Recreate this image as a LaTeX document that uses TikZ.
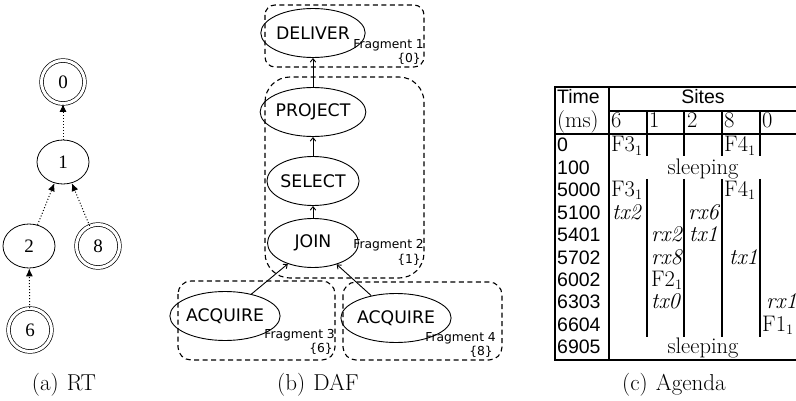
\documentclass[tikz,border=0pt]{standalone}
\usepackage{fontspec}
\usetikzlibrary{shapes.geometric,arrows.meta}
\newfontfamily\dvsans{DejaVu Sans}
\newfontfamily\lserif{Liberation Serif}
\newfontfamily\lsans{Liberation Sans}

\tikzset{
  treefont/.style={font=\lserif\fontsize{19}{19}\selectfont},
  rtvertex/.style={draw, ellipse, line width=0.8pt, minimum width=52pt, minimum height=44pt, inner sep=0pt, treefont},
  rtsink/.style={draw, circle, double, double distance=3pt, line width=0.7pt, minimum size=43pt, inner sep=0pt, treefont},
  rtedge/.style={dotted, line width=1pt, -{Latex[length=8pt,width=7pt]}},
  opnode/.style={draw, ellipse, line width=0.9pt, minimum width=91pt, minimum height=49pt, inner sep=0pt, font=\dvsans\fontsize{17.3}{17.3}\selectfont},
  flow/.style={line width=0.9pt, -{Straight Barb[length=3.5pt,width=5.5pt]}},
  fragbox/.style={dash pattern=on 5pt off 3.5pt, line width=1.1pt},
  fraglabel/.style={font=\dvsans\fontsize{12.3}{12.3}\selectfont, inner sep=0pt, anchor=base east},
  captext/.style={font=\fontsize{23}{23}\selectfont, inner sep=0pt, anchor=base},
  tabrule/.style={line width=1.4pt},
  cellrule/.style={line width=1.1pt},
  tsans/.style={font=\lsans\fontsize{19.5}{19.5}\selectfont, inner sep=0pt, anchor=base west},
  troman/.style={font=\fontsize{22.5}{22.5}\selectfont, inner sep=0pt, anchor=base west},
  tcenter/.style={troman, anchor=base},
}

\begin{document}
\begin{tikzpicture}[x=1pt,y=-1pt]
\useasboundingbox (0,0) rectangle (796,401);

% ---------- (a) routing tree ----------
\node[rtsink]   (r0) at (63,82)  {0};
\node[rtvertex] (r1) at (63,162) {1};
\node[rtvertex] (r2) at (29,246) {2};
\node[rtsink]   (r8) at (98,246) {8};
\node[rtsink]   (r6) at (30,330) {6};
\draw[rtedge] (r1) -- (r0);
\draw[rtedge] (r2) -- (r1);
\draw[rtedge] (r8) -- (r1);
\draw[rtedge] (r6) -- (r2);
\node[captext] (capa) at (64,390) {(a)\hspace{0.35em}RT};

% ---------- (b) distributed algebraic form ----------
\draw[fragbox, rounded corners=10pt] (265,5) rectangle (424,67);
\draw[fragbox, rounded corners=25pt] (265,77) rectangle (424,278);
\draw[fragbox, rounded corners=13pt] (178,281) rectangle (335,360);
\draw[fragbox, rounded corners=13pt] (343,282) rectangle (502,360);

\node[opnode] (deliver) at (313,33)  {DELIVER};
\node[opnode] (project) at (313,112) {PROJECT};
\node[opnode] (select)  at (313,181) {SELECT};
\node[opnode] (join)    at (313,243) {JOIN};
\node[opnode] (acqa)    at (225,316) {ACQUIRE};
\node[opnode] (acqb)    at (396,318) {ACQUIRE};

\draw[flow] (project) -- (deliver);
\draw[flow] (select) -- (project);
\draw[flow] (join) -- (select);
\draw[flow] (acqa) -- (join);
\draw[flow] (acqb) -- (join);

\node[fraglabel] (f1a) at (424,49)  {Fragment 1};
\node[fraglabel] (f1b) at (421,63)  {\{0\}};
\node[fraglabel] (f2a) at (424,248) {Fragment 2};
\node[fraglabel] (f2b) at (421,263) {\{1\}};
\node[fraglabel] (f3a) at (335,338) {Fragment 3};
\node[fraglabel] (f3b) at (333,352) {\{6\}};
\node[fraglabel] (f4a) at (496,341) {Fragment 4};
\node[fraglabel] (f4b) at (493,355) {\{8\}};
\node[captext] (capb) at (318,390) {(b)\hspace{0.35em}DAF};

% ---------- (c) agenda table ----------
% frame and horizontal rules
\draw[tabrule] (796,87) -- (555,87) -- (555,360) -- (796,360);
\draw[tabrule] (609,87) -- (609,360);
\draw[cellrule] (609,111) -- (796,111);
\draw[tabrule] (555,134) -- (796,134);
% column separators that run through the header and the active rows
\foreach \cx in {647,684,722,760}{
  \draw[cellrule] (\cx,111) -- (\cx,156.5);
  \draw[cellrule] (\cx,179) -- (\cx,336.5);
}

% header
\node[tsans]  (hTime)  at (557,104) {Time};
\node[tsans, anchor=base] (hSites) at (703,104) {Sites};
\node[troman] (hms) at (557,128) {(ms)};
\node[troman] (h6) at (611,128) {6};
\node[troman] (h1) at (649,128) {1};
\node[troman] (h2) at (687,128) {2};
\node[troman] (h8) at (724,128) {8};
\node[troman] (h0) at (762,128) {0};

% time column
\foreach \t [count=\i from 0] in {0,100,5000,5100,5401,5702,6002,6303,6604,6905}
  \node[tsans] (time\i) at (557,{152+22.4*\i}) {\t};

% cells
\node[troman]  (c0a) at (611,152.0) {F3$_1$};
\node[troman]  (c0b) at (724,152.0) {F4$_1$};
\node[tcenter] (c1)  at (703,174.4) {sleeping};
\node[troman]  (c2a) at (611,196.8) {F3$_1$};
\node[troman]  (c2b) at (724,196.8) {F4$_1$};
\node[troman]  (c3a) at (612,219.2) {\itshape tx2};
\node[troman]  (c3b) at (688,219.2) {\itshape rx6};
\node[troman]  (c4a) at (651,241.6) {\itshape rx2};
\node[troman]  (c4b) at (689,241.6) {\itshape tx1};
\node[troman]  (c5a) at (651,264.0) {\itshape rx8};
\node[troman]  (c5b) at (729,264.0) {\itshape tx1};
\node[troman]  (c6a) at (651,286.4) {F2$_1$};
\node[troman]  (c7a) at (651,308.8) {\itshape tx0};
\node[troman]  (c7b) at (766,308.8) {\itshape rx1};
\node[troman]  (c8a) at (762,331.2) {F1$_1$};
\node[tcenter] (c9)  at (703,353.6) {sleeping};
\node[captext] (capc) at (674,390) {(c)\hspace{0.35em}Agenda};
\end{tikzpicture}
\end{document}
